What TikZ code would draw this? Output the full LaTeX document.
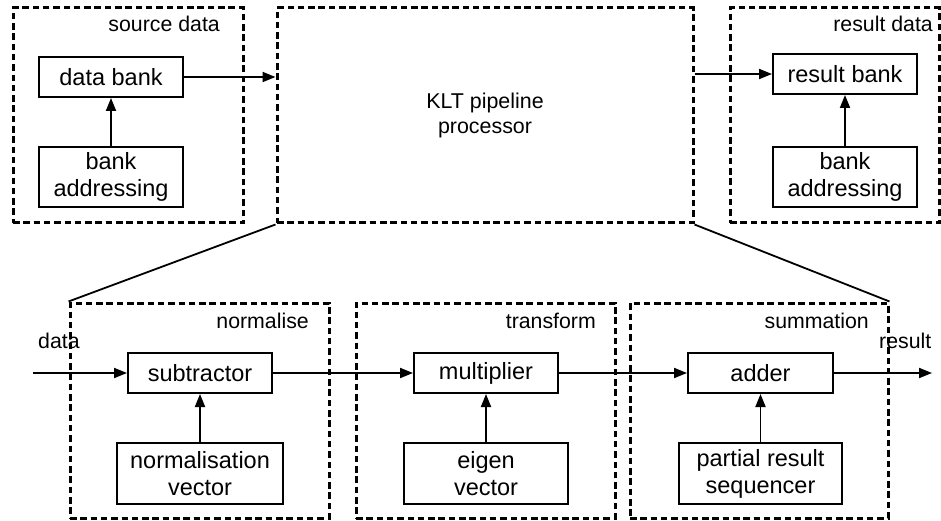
\documentclass[tikz,border=0pt]{standalone}
\usepackage{fontspec}
\setmainfont{Liberation Sans}
\usetikzlibrary{arrows.meta}
\begin{document}
\begin{tikzpicture}[x=1pt,y=-1pt,
  every node/.style={font=\fontsize{23.5}{27}\selectfont},
  group/.style={draw, line width=3pt, dash pattern=on 6.5pt off 3.8pt, inner sep=0pt, align=center,
    font=\fontsize{21.4}{25.5}\selectfont},
  unit/.style={draw, line width=2pt, inner sep=0pt, align=center},
  tag/.style={inner sep=0pt, font=\fontsize{21.3}{25}\selectfont},
  link/.style={line width=1.9pt, -{Triangle[length=13pt,width=10pt]}},
  plain/.style={line width=1.8pt}]
\useasboundingbox (0,0) rectangle (941,521);

% upper level: memories around the pipeline processor
\node[group, minimum width=230pt, minimum height=215pt] (src) at (128,115.5) {};
\node[group, minimum width=416pt, minimum height=215pt] (klt) at (485,115.5) {KLT pipeline\\processor};
\node[group, minimum width=209pt, minimum height=215pt] (res) at (834.5,115.5) {};
\node[tag, anchor=base east] (srclbl) at (220,32) {source data};
\node[tag, anchor=base east] (reslbl) at (933,32) {result data};

\node[unit, minimum width=144pt, minimum height=40pt] (databank) at (111,77) {data bank};
\node[unit, minimum width=144pt, minimum height=60pt] (addrA) at (111,177) {bank\\addressing};
\node[unit, minimum width=144pt, minimum height=40pt] (resbank) at (845,74) {result bank};
\node[unit, minimum width=144pt, minimum height=60pt] (addrB) at (845,177) {bank\\addressing};

\draw[link] (addrA.north) -- (databank.south);
\draw[link] (databank.east) -- (databank.east -| klt.west);
\draw[link] (resbank.west -| klt.east) -- (resbank.west);
\draw[link] (addrB.north) -- (resbank.south);

% lower level: the three pipeline stages
\node[group, minimum width=259pt, minimum height=215pt] (norm) at (199.5,410.5) {};
\node[group, minimum width=259pt, minimum height=215pt] (trans) at (485.5,410.5) {};
\node[group, minimum width=258pt, minimum height=215pt] (summ) at (759,410.5) {};
\node[tag, anchor=base east] (normlbl) at (309,328) {normalise};
\node[tag, anchor=base east] (translbl) at (596,328) {transform};
\node[tag, anchor=base east] (summlbl) at (869,328) {summation};

\draw[plain] (klt.south west) -- (norm.north west);
\draw[plain] (klt.south east) -- (summ.north east);

\node[unit, minimum width=144pt, minimum height=40pt] (sub) at (200,373) {subtractor};
\node[unit, minimum width=166pt, minimum height=61pt] (nvec) at (200,473.5) {normalisation\\vector};
\node[unit, minimum width=144pt, minimum height=40pt] (mult) at (486,373) {multiplier};
\node[unit, minimum width=164pt, minimum height=61pt] (evec) at (486,473.5) {eigen\\vector};
\node[unit, minimum width=145pt, minimum height=40pt] (adder) at (760.5,373) {adder};
\node[unit, minimum width=163pt, minimum height=61pt] (prs) at (760.5,473.5) {partial result\\sequencer};

\coordinate (din) at (33,373);
\coordinate (dout) at (932,373);
\node[tag, anchor=base west] (dinlbl) at (38,348) {data};
\node[tag, anchor=base west] (doutlbl) at (879,348) {result};

\draw[link] (din) -- (sub.west);
\draw[link] (sub.east) -- (mult.west);
\draw[link] (mult.east) -- (adder.west);
\draw[link] (adder.east) -- (dout);
\draw[link] (nvec.north) -- (sub.south);
\draw[link] (evec.north) -- (mult.south);
\draw[link] (prs.north) -- (adder.south);
\end{tikzpicture}
\end{document}
